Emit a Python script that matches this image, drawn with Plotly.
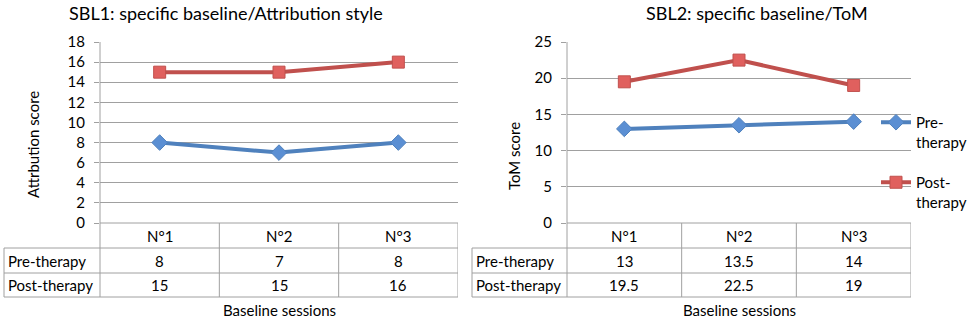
import plotly.graph_objects as go

# ---------------- data ----------------
categories = ["N°1", "N°2", "N°3"]
series_names = ["Pre-therapy", "Post-therapy"]
sbl1_pre = [8, 7, 8]
sbl1_post = [15, 15, 16]
sbl2_pre = [13, 13.5, 14]
sbl2_post = [19.5, 22.5, 19]
sbl1_ticks = [0, 2, 4, 6, 8, 10, 12, 14, 16, 18]
sbl2_ticks = [0, 5, 10, 15, 20, 25]
title1 = "SBL1: specific baseline/Attribution style"
title2 = "SBL2: specific baseline/ToM"
ytitle1 = "Attrbution score"
ytitle2 = "ToM score"
xtitle = "Baseline sessions"

W, H = 972, 319
FONT = "Lato"
GRID = "#A0A0A0"
BORDER = "#A0A0A0"
BLUE = "#4F81BD"
RED = "#C0504D"
TXT = "#000000"


def px(x):
    return x / W


def py(y):
    return 1 - y / H


fig = go.Figure()
xs = list(range(len(categories)))

panels = [
    dict(pre=sbl1_pre, post=sbl1_post, ticks=sbl1_ticks, title=title1, ytitle=ytitle1,
         ax0=100, ax1=458, lab=4, xa="x", ya="y", tx=225.5, ytx=33, yty=145, xtx=279,
         legend=False),
    dict(pre=sbl2_pre, post=sbl2_post, ticks=sbl2_ticks, title=title2, ytitle=ytitle2,
         ax0=567, ax1=911, lab=472, xa="x2", ya="y2", tx=756.5, ytx=514, yty=156, xtx=739,
         legend=True),
]

top, bot = 42, 223
rows = [223, 248, 273, 297]

shapes = []
annotations = []


def ann(**kw):
    base = dict(showarrow=False, xanchor="center", yanchor="middle")
    base.update(kw)
    annotations.append(base)


for i, p in enumerate(panels):
    for name, vals, color, sym, msize, mfill in [
        (series_names[0], p["pre"], BLUE, "diamond", 12, "#5B8FD3"),
        (series_names[1], p["post"], RED, "square", 12, "#E0605E"),
    ]:
        fig.add_trace(go.Scatter(
            x=xs, y=vals, mode="lines+markers", name=name.replace("-", "-<br>", 1),
            legendgroup=name, showlegend=p["legend"],
            xaxis=p["xa"], yaxis=p["ya"],
            line=dict(color=color, width=4),
            marker=dict(symbol=sym, size=msize, color=mfill,
                        line=dict(color=color, width=1)),
        ))
    sfx = "" if i == 0 else "2"
    fig.update_layout(**{
        "xaxis" + sfx: dict(domain=[px(p["ax0"]), px(p["ax1"])], range=[-0.5, 2.5],
                            showgrid=False, showticklabels=False, zeroline=False,
                            showline=False, ticks="", anchor="y" + sfx, fixedrange=True),
        "yaxis" + sfx: dict(domain=[py(bot), py(top)], range=[0, p["ticks"][-1]],
                            tickvals=p["ticks"], showgrid=True, gridcolor=GRID, gridwidth=1,
                            zeroline=False, showline=False, ticks="outside", ticklen=5,
                            ticklabelstandoff=6,
                            tickcolor=BORDER, tickfont=dict(family=FONT, size=15, color=TXT),
                            anchor="x" + sfx, fixedrange=True),
    })
    xr = p["xa"]
    shapes.append(dict(type="line", xref="paper", yref="paper",
                       x0=px(p["ax0"]), x1=px(p["ax0"]), y0=py(top), y1=py(rows[3]),
                       line=dict(color=BORDER, width=1)))
    shapes.append(dict(type="line", xref=xr, yref="paper", x0=-0.5, x1=2.5,
                       y0=py(rows[0]), y1=py(rows[0]), line=dict(color=BORDER, width=1)))
    for r in rows[1:]:
        shapes.append(dict(type="line", xref="paper", yref="paper",
                           x0=px(p["lab"]), x1=px(p["ax1"]), y0=py(r), y1=py(r),
                           line=dict(color=BORDER, width=1)))
    shapes.append(dict(type="line", xref="paper", yref="paper",
                       x0=px(p["lab"]), x1=px(p["lab"]), y0=py(rows[1]), y1=py(rows[3]),
                       line=dict(color=BORDER, width=1)))
    for b in [0.5, 1.5, 2.5]:
        shapes.append(dict(type="line", xref=xr, yref="paper", x0=b, x1=b,
                           y0=py(rows[0]), y1=py(rows[3]), line=dict(color=BORDER, width=1)))
    for j, c in enumerate(categories):
        ann(xref=xr, yref="paper", x=j, y=py((rows[0] + rows[1]) / 2), text=c,
            font=dict(family=FONT, size=15, color=TXT))
        for k, vals in enumerate([p["pre"], p["post"]]):
            ann(xref=xr, yref="paper", x=j, y=py((rows[k + 1] + rows[k + 2]) / 2),
                text=f"{vals[j]:g}", font=dict(family=FONT, size=15, color=TXT))
    for k, nm in enumerate(series_names):
        ann(xref="paper", yref="paper", x=px(p["lab"] + 2),
            y=py((rows[k + 1] + rows[k + 2]) / 2), xanchor="left", text=nm,
            font=dict(family=FONT, size=15, color=TXT))
    ann(xref="paper", yref="paper", x=px(p["tx"]), y=py(13), text=p["title"],
        font=dict(family=FONT, size=18, color=TXT))
    ann(xref="paper", yref="paper", x=px(p["xtx"]), y=py(310), text=xtitle,
        font=dict(family=FONT, size=15, color=TXT))
    ann(xref="paper", yref="paper", x=px(p["ytx"]), y=py(p["yty"]), text=p["ytitle"],
        textangle=-90, font=dict(family=FONT, size=15, color=TXT))

fig.update_layout(
    width=W, height=H, margin=dict(l=0, r=0, t=0, b=0, pad=0, autoexpand=False),
    paper_bgcolor="white", plot_bgcolor="white",
    shapes=shapes, annotations=annotations,
    legend=dict(x=px(876), y=py(106), xanchor="left", yanchor="top",
                font=dict(family=FONT, size=15, color=TXT), itemwidth=30,
                tracegroupgap=18, bgcolor="rgba(0,0,0,0)", valign="top"),
)

fig.write_html("out.html", config={"displayModeBar": False},
               post_script="document.body.style.margin='0px';")
